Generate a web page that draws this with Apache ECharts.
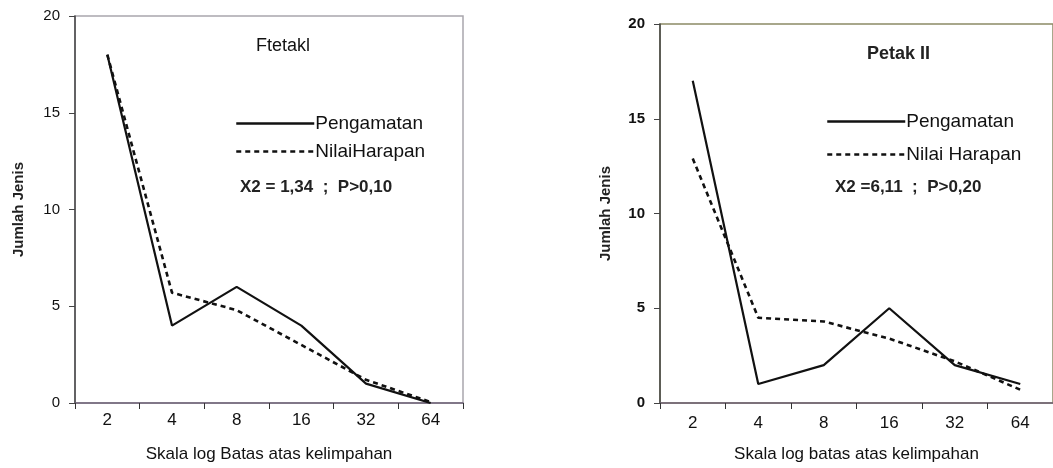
<!DOCTYPE html>
<html>
<head>
<meta charset="utf-8">
<script src="https://cdn.jsdelivr.net/npm/echarts@6/dist/echarts.min.js"></script>
<style>
html, body { margin: 0; padding: 0; background: #fff; }
#chart { width: 1053px; height: 468px; }
</style>
</head>
<body>
<div id="chart"></div>
<script>
// kelas kelimpahan (skala log)
const categories = ['2', '4', '8', '16', '32', '64']
const yTicks = [0, 5, 10, 15, 20]

// Petak I
const obs1 = [18, 4, 6, 4, 1, 0]
const exp1 = [18, 5.7, 4.8, 3.0, 1.2, 0.05]
// Petak II
const obs2 = [17, 1, 2, 5, 2, 1]
const exp2 = [12.9, 4.5, 4.3, 3.4, 2.2, 0.7]

const font = 'Arial, "Liberation Sans", Helvetica, sans-serif'

const chart = echarts.init(document.getElementById('chart'))

function xAxisOf (grid) {
  return {
    type: 'category',
    gridIndex: grid,
    data: categories,
    boundaryGap: true,
    name: grid === 0 ? 'Skala log Batas atas kelimpahan' : 'Skala log batas atas kelimpahan',
    nameLocation: 'middle',
    nameGap: 43,
    nameTextStyle: { color: '#111', fontSize: 17, fontFamily: font },
    axisLine: { lineStyle: { color: '#6d6075', width: 1.5 } },
    axisTick: { show: true, interval: 0, length: 6, lineStyle: { color: '#333' } },
    axisLabel: { color: '#111', fontSize: 17, fontFamily: font, margin: grid === 0 ? 9 : 12 },
    splitLine: { show: false }
  }
}

function yAxisOf (grid, bold) {
  return {
    type: 'value',
    gridIndex: grid,
    min: yTicks[0],
    max: yTicks[yTicks.length - 1],
    interval: 5,
    name: 'Jumlah Jenis',
    nameLocation: 'middle',
    nameGap: grid === 0 ? 49 : 47,
    nameRotate: 90,
    nameTextStyle: { color: '#222', fontSize: 15, fontWeight: 'bold', fontFamily: font },
    axisLine: { show: true, lineStyle: { color: '#444', width: 1.5 } },
    axisTick: { show: true, length: 6, lineStyle: { color: '#444' } },
    axisLabel: { color: '#111', fontSize: 15, fontWeight: bold ? 'bold' : 'normal', fontFamily: font, margin: 15 },
    splitLine: { show: false }
  }
}

function lineOf (name, data, idx, dashed) {
  return {
    name: name,
    type: 'line',
    xAxisIndex: idx,
    yAxisIndex: idx,
    data: data,
    symbol: 'none',
    silent: true,
    z: dashed ? 3 : 2,
    itemStyle: { color: '#111' },
    lineStyle: dashed
      ? { color: '#111', width: 2.6, type: [5, 4] }
      : { color: '#111', width: 2.2 }
  }
}

function legendOf (names, left, top, gap) {
  return {
    data: names,
    orient: 'vertical',
    left: left,
    top: top,
    padding: 0,
    itemWidth: 78,
    itemHeight: 14,
    itemGap: gap,
    itemStyle: { opacity: 0 },
    lineStyle: { width: 2.5 },
    textStyle: { fontSize: 19, color: '#111', fontFamily: font, padding: [0, 0, 0, -4] },
    selectedMode: false
  }
}

const option = {
  backgroundColor: '#ffffff',
  animation: false,
  grid: [
    { left: 75, top: 16, width: 388, height: 390, show: true, borderColor: '#a9a6ad', borderWidth: 1.5 },
    { left: 660, top: 24, width: 396, height: 383, show: true, borderColor: '#8c8a66', borderWidth: 1.5 }
  ],
  title: [
    { text: 'Ftetakl', left: 251, top: 32, textStyle: { fontSize: 18, fontWeight: 'normal', color: '#111', fontFamily: font } },
    { text: 'Petak II', left: 862, top: 40, textStyle: { fontSize: 18, fontWeight: 'bold', color: '#222', fontFamily: font } },
    { text: 'X2 = 1,34  ;  P>0,10', left: 235, top: 174, textStyle: { fontSize: 17, fontWeight: 'bold', color: '#222', fontFamily: font } },
    { text: 'X2 =6,11  ;  P>0,20', left: 830, top: 174, textStyle: { fontSize: 17, fontWeight: 'bold', color: '#222', fontFamily: font } }
  ],
  legend: [
    legendOf(['Pengamatan', 'NilaiHarapan'], 235, 114, 9),
    legendOf(['Pengamatan ', 'Nilai Harapan'], 826, 112, 14)
  ],
  xAxis: [xAxisOf(0), xAxisOf(1)],
  yAxis: [yAxisOf(0, false), yAxisOf(1, true)],
  series: [
    lineOf('Pengamatan', obs1, 0, false),
    lineOf('NilaiHarapan', exp1, 0, true),
    lineOf('Pengamatan ', obs2, 1, false),
    lineOf('Nilai Harapan', exp2, 1, true)
  ]
}

chart.setOption(option)
</script>
</body>
</html>
